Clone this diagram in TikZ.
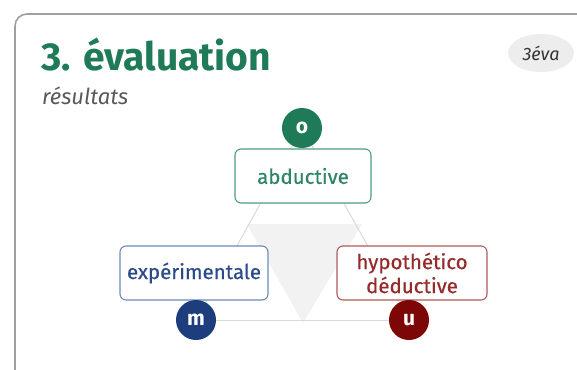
\documentclass[tikz,border=0pt]{standalone}
\usepackage{fontspec}
\setmainfont{Fira Sans}
\newfontfamily\medfont[FakeBold=0.5]{Fira Sans}
\usetikzlibrary{shapes.geometric}
\definecolor{cgreen}{HTML}{1F7A57}
\definecolor{cgreenl}{HTML}{4E9E7E}
\definecolor{cgreent}{HTML}{2D8563}
\definecolor{cblue}{HTML}{1E3D7D}
\definecolor{cbluel}{HTML}{6F88B8}
\definecolor{cbluet}{HTML}{2C4A88}
\definecolor{cred}{HTML}{7D0606}
\definecolor{credl}{HTML}{B05C5C}
\definecolor{credt}{HTML}{962A2A}
\definecolor{cardline}{HTML}{A0A0A0}
\definecolor{edgegray}{HTML}{DADADA}
\definecolor{trifill}{HTML}{F2F2F2}
\tikzset{
  x=1pt, y=-1pt,
  term/.style={draw, line width=1.1pt, rounded corners=6pt, fill=white, minimum height=54pt, inner sep=0pt, align=center, font=\medfont\fontsize{20.5}{24}\selectfont},
  letter/.style={circle, minimum size=40pt, inner sep=0pt, text=white, font=\bfseries\fontsize{21}{21}\selectfont},
  edge/.style={draw=edgegray, line width=1pt}
}
\begin{document}
\begin{tikzpicture}
\useasboundingbox (0,0) rectangle (577,369);
\clip (0,0) rectangle (577,369);
\fill[white] (0,0) rectangle (577,369);
% card
\draw[cardline, line width=1.6pt, rounded corners=12pt] (15,420) -- (15,14) -- (620,14);
% title
\node[anchor=base west, inner sep=0pt, text=cgreen, font=\bfseries\fontsize{39}{40}\selectfont] (title) at (41,70) {3. évaluation};
\node[anchor=base west, inner sep=0pt, text=black!65, font=\itshape\fontsize{22}{22}\selectfont] (sub) at (42,104) {résultats};
% badge
\node[ellipse, fill=black!7, minimum width=66pt, minimum height=38pt, inner sep=0pt, font=\itshape\fontsize{18}{18}\selectfont, text=black!80] (badge) at (541,53) {3éva};
% inverted triangle
\fill[trifill] (247,224) -- (362,224) -- (303,323) -- cycle;
% circle positions
\coordinate (co) at (302,128);
\coordinate (cm) at (196,320);
\coordinate (cu) at (409,320);
\draw[edge] (co) -- (cm);
\draw[edge] (co) -- (cu);
\draw[edge] (cm) -- (cu);
% boxes
\node[term, draw=cgreenl, text=cgreent, minimum width=136pt] (abd) at (303,176) {abductive};
\node[term, draw=cbluel, text=cbluet, minimum width=148pt] (exp) at (194,273) {expérimentale};
\node[term, draw=credl, text=credt, minimum width=150pt] (hyp) at (412,273) {hypothético\\déductive};
% circles
\node[letter, fill=cgreen] (o) at (co) {o};
\node[letter, fill=cblue] (m) at (cm) {m};
\node[letter, fill=cred] (u) at (cu) {u};
\end{tikzpicture}
\end{document}
